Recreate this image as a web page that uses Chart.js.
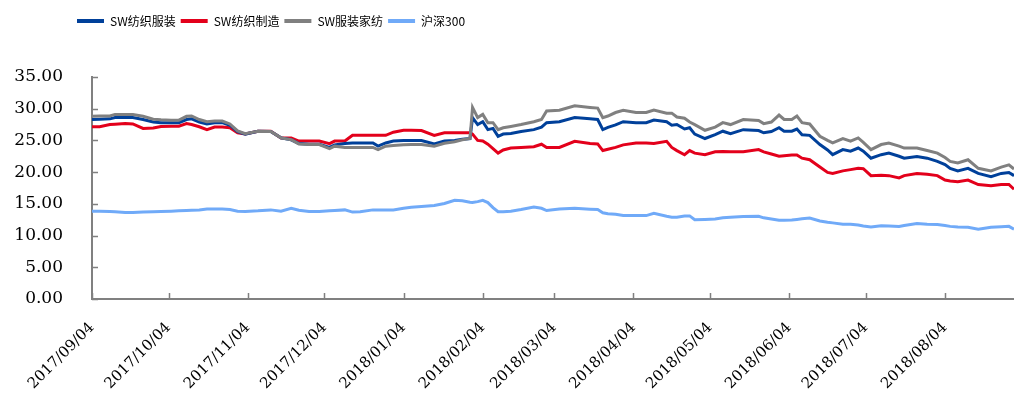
<!DOCTYPE html>
<html><head><meta charset="utf-8">
<script src="https://cdn.jsdelivr.net/npm/chart.js@4.4.0/dist/chart.umd.min.js"></script>
<style>html,body{margin:0;padding:0;background:#fff;} #wrap{width:1014px;height:401px;position:relative;}</style>
</head><body><div id="wrap"><canvas id="c"></canvas></div>
<script>
// day offsets from 2017/09/04
const days = [0,3,7,9,13,16,20,24,27,31,34,37,39,42,45,48,51,54,57,60,65,70,74,78,81,85,89,93,95,99,102,105,110,112,115,118,122,125,129,134,138,142,145,148,149,151,153,155,157,159,161,164,168,173,176,178,183,189,195,198,200,202,205,208,213,217,220,225,227,229,232,234,236,240,244,247,250,255,261,263,266,269,271,274,276,278,281,285,288,290,294,297,300,302,305,309,312,316,318,323,327,331,334,336,339,343,347,352,356,359,361];
// SW纺织服装
const swTextileApparel = [28.3,28.35,28.4,28.6,28.6,28.6,28.3,27.9,27.8,27.8,27.8,28.3,28.4,27.9,27.6,27.8,27.8,27.4,26.4,26.0,26.45,26.4,25.4,25.1,24.5,24.4,24.4,23.9,24.3,24.5,24.6,24.6,24.6,24.1,24.6,24.9,25.0,25.0,25.0,24.45,24.9,25.0,25.2,25.3,28.6,27.5,27.95,26.7,26.9,25.65,26.0,26.1,26.4,26.7,27.1,27.8,27.95,28.6,28.4,28.3,26.7,27.05,27.45,27.95,27.8,27.8,28.2,27.95,27.4,27.5,26.8,27.0,26.0,25.3,25.9,26.45,26.05,26.7,26.55,26.2,26.4,27.0,26.45,26.45,26.8,25.9,25.8,24.35,23.5,22.75,23.55,23.3,23.8,23.3,22.2,22.75,23.0,22.5,22.2,22.45,22.2,21.7,21.2,20.6,20.2,20.6,19.8,19.3,19.8,19.95,19.45];
// SW纺织制造
const swTextileMfg = [27.15,27.15,27.5,27.55,27.65,27.6,26.9,26.95,27.2,27.25,27.25,27.65,27.5,27.15,26.7,27.1,27.1,27.0,26.2,26.0,26.45,26.45,25.4,25.4,24.9,24.9,24.9,24.5,24.9,24.9,25.8,25.8,25.8,25.8,25.8,26.3,26.6,26.6,26.55,25.8,26.2,26.2,26.2,26.2,26.0,25.0,24.9,24.4,23.7,23.0,23.5,23.8,23.9,24.0,24.4,23.9,23.9,24.85,24.5,24.45,23.4,23.6,23.9,24.3,24.6,24.6,24.5,24.85,23.9,23.4,22.75,23.4,23.0,22.75,23.2,23.25,23.2,23.2,23.55,23.2,22.85,22.5,22.6,22.7,22.7,22.2,21.95,20.8,19.95,19.8,20.2,20.4,20.6,20.55,19.45,19.5,19.45,19.1,19.45,19.8,19.65,19.45,18.75,18.6,18.5,18.75,18.05,17.85,18.05,18.05,17.3];
// SW服装家纺
const swApparelHome = [28.8,28.85,28.85,29.1,29.1,29.1,28.8,28.35,28.25,28.2,28.2,28.8,28.85,28.3,27.95,28.05,28.05,27.6,26.5,26.05,26.45,26.4,25.4,25.1,24.45,24.35,24.35,23.7,24.1,23.9,23.9,23.9,23.9,23.55,24.1,24.2,24.3,24.35,24.35,24.1,24.55,24.8,25.1,25.3,30.2,28.6,29.1,27.8,27.8,26.7,27.0,27.2,27.5,27.95,28.3,29.65,29.75,30.45,30.2,30.1,28.6,28.85,29.4,29.75,29.4,29.4,29.8,29.3,29.3,28.7,28.5,27.9,27.5,26.6,27.1,27.8,27.5,28.3,28.15,27.65,27.9,29.0,28.3,28.3,28.85,27.8,27.6,25.65,25.0,24.6,25.3,24.9,25.4,24.7,23.55,24.35,24.6,24.1,23.8,23.8,23.4,23.0,22.3,21.7,21.45,21.95,20.6,20.2,20.8,21.15,20.5];
// 沪深300
const hs300 = [13.85,13.85,13.8,13.75,13.65,13.65,13.7,13.75,13.8,13.85,13.9,13.95,14.0,14.05,14.2,14.2,14.2,14.1,13.85,13.8,13.9,14.05,13.85,14.3,14.0,13.8,13.8,13.9,13.95,14.05,13.7,13.75,14.05,14.05,14.05,14.05,14.3,14.45,14.6,14.75,15.05,15.55,15.5,15.25,15.2,15.35,15.55,15.2,14.4,13.75,13.75,13.85,14.1,14.5,14.3,13.95,14.2,14.3,14.15,14.1,13.6,13.45,13.35,13.15,13.15,13.15,13.5,13.05,12.9,12.9,13.1,13.1,12.5,12.55,12.6,12.8,12.9,13.0,13.05,12.8,12.6,12.4,12.4,12.45,12.55,12.65,12.75,12.3,12.1,12.0,11.8,11.8,11.65,11.5,11.35,11.55,11.5,11.45,11.6,11.9,11.8,11.75,11.6,11.45,11.35,11.3,11.0,11.3,11.4,11.45,11.0];

const seriesNames = ['SW纺织服装','SW纺织制造','SW服装家纺','沪深300'];
const tickDays = [0,30,61,91,122,153,181,212,242,273,303,334];
const tickLabels = ['2017/09/04','2017/10/04','2017/11/04','2017/12/04','2018/01/04','2018/02/04','2018/03/04','2018/04/04','2018/05/04','2018/06/04','2018/07/04','2018/08/04'];
const yTicks = [0,5,10,15,20,25,30,35];

const colors = ['#00409a','#e3001b','#808080','#70aaf8'];
const seriesList = [swTextileApparel, swTextileMfg, swApparelHome, hs300];
const drawOrder = [2,3,1,4];

const toPoints = arr => days.map((d,i) => ({x: d, y: arr[i]}));

const innerTicks = {
  id: 'innerTicks',
  afterLayout(chart) {
    chart.legend.left = 72;
    chart.legend.top = 10;
  },
  afterDatasetsDraw(chart) {
    const {ctx, scales: {x, y}, chartArea} = chart;
    ctx.save();
    ctx.strokeStyle = '#808080';
    ctx.lineWidth = 1.5;
    ctx.beginPath();
    x.ticks.forEach(t => {
      const px = Math.round(x.getPixelForValue(t.value)) + 0.5;
      ctx.moveTo(px, chartArea.bottom);
      ctx.lineTo(px, chartArea.bottom - 6);
    });
    y.ticks.forEach(t => {
      const py = Math.round(y.getPixelForValue(t.value)) + 0.5;
      ctx.moveTo(chartArea.left, py);
      ctx.lineTo(chartArea.left + 6, py);
    });
    ctx.stroke();
    ctx.restore();
  }
};

new Chart(document.getElementById('c'), {
  type: 'line',
  data: {
    datasets: seriesList.map((arr, i) => ({
      label: seriesNames[i],
      data: toPoints(arr),
      borderColor: colors[i],
      backgroundColor: colors[i],
      borderWidth: 3,
      pointRadius: 0,
      tension: 0,
      order: drawOrder[i]
    }))
  },
  options: {
    responsive: true,
    maintainAspectRatio: false,
    animation: false,
    layout: { padding: { top: 50, left: 0, right: 0, bottom: 0 } },
    plugins: {
      tooltip: { enabled: false },
      legend: {
        position: 'top',
        align: 'start',
        labels: {
          usePointStyle: true,
          pointStyle: 'line',
          pointStyleWidth: 27,
          padding: 5,
          color: '#000',
          font: { family: "'Noto Sans CJK SC'", size: 12 },
          sort: (a, b) => a.datasetIndex - b.datasetIndex,
          generateLabels: (chart) => {
            const items = Chart.defaults.plugins.legend.labels.generateLabels(chart);
            items.forEach(it => { it.lineWidth = 4; it.pointStyle = 'line'; });
            return items;
          }
        }
      }
    },
    scales: {
      x: {
        type: 'linear',
        min: 0,
        max: 361,
        afterFit: s => { s.height = 102; },
        afterBuildTicks: s => { s.ticks = tickDays.map(v => ({ value: v })); },
        grid: { display: false, drawTicks: false },
        border: { display: true, color: '#808080', width: 2 },
        ticks: {
          autoSkip: false,
          minRotation: 45,
          maxRotation: 45,
          padding: 20,
          color: '#000',
          font: { family: "'DejaVu Serif'", size: 15 },
          callback: (v, i) => tickLabels[i]
        }
      },
      y: {
        min: 0,
        max: 35,
        afterFit: s => { s.width = 92; },
        afterBuildTicks: s => { s.ticks = yTicks.map(v => ({ value: v })); },
        grid: { display: false, drawTicks: false },
        border: { display: true, color: '#808080', width: 2 },
        ticks: {
          padding: 29,
          color: '#000',
          font: { family: "'DejaVu Serif'", size: 17 },
          callback: v => Number(v).toFixed(2)
        }
      }
    }
  },
  plugins: [innerTicks]
});
</script>
</body></html>
